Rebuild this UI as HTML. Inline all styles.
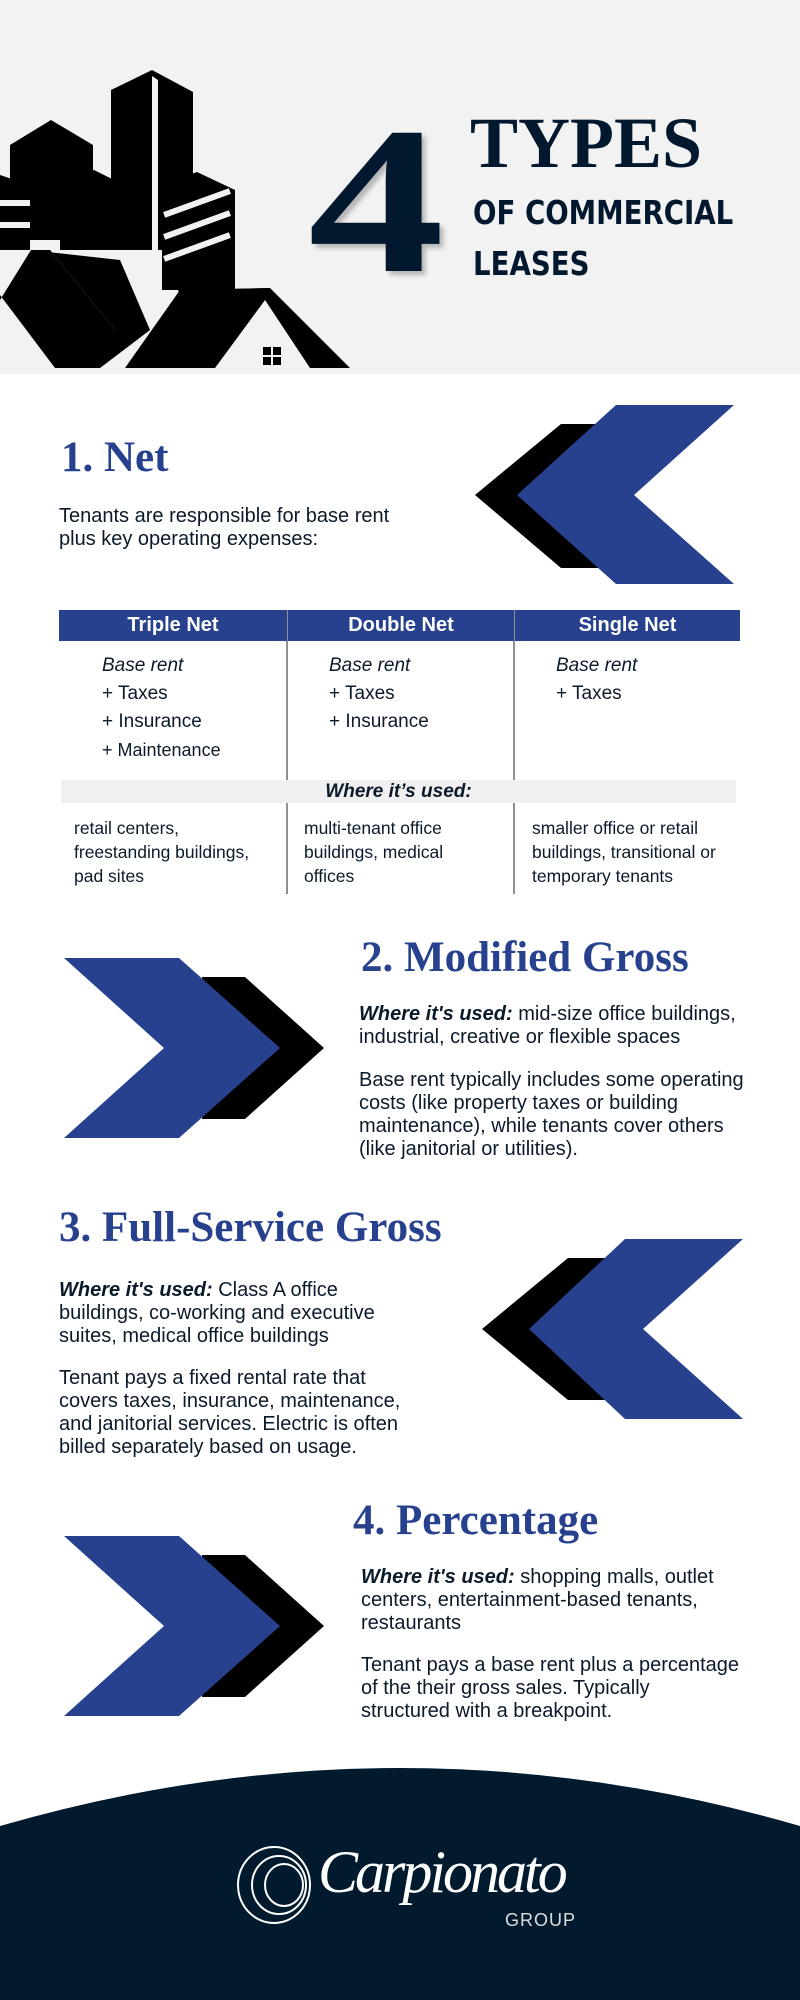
<!DOCTYPE html>
<html><head><meta charset="utf-8"><style>
*{margin:0;padding:0;box-sizing:border-box}
body{width:800px;height:2000px;position:relative;background:#fff;font-family:"Liberation Sans",sans-serif;color:#0b1a2b;overflow:hidden}
.a{position:absolute;white-space:nowrap}
.h{font-family:"Liberation Serif",serif;font-weight:bold;color:#27418f;font-size:43px}
.t{font-size:20px;line-height:23px}
.s{font-size:17.5px;line-height:24px}
.th{position:absolute;top:610px;height:31px;background:#27418f;color:#fff;font-weight:bold;font-size:20px;text-align:center;line-height:31px}
</style></head><body>
<div class="a" style="left:0;top:0;width:800px;height:374px;background:#f2f2f2"></div>
<svg class="a" style="left:0;top:0" width="360" height="374" viewBox="0 0 360 374">
<g fill="#000">
<polygon points="111,90 152,70 193,92 193,250 111,250"/>
<polygon points="10,145 51,120 93,145 93,240 10,240"/>
<polygon points="60,180 94,170 124,185 124,250 60,250"/>
<polygon points="162,185 197,172 235,190 235,290 162,290"/>
<polygon points="0,175 30,185 30,250 0,250"/>
<polygon points="0,300 31,250 50,250 115,330 150,330 100,368 55,368 0,295"/>
<polygon points="30,250 120,260 150,330 115,330 50,250"/>
<polygon points="125,368 180,290 270,288 350,368 310,368 265,300 215,368"/>
<polygon points="178,290 270,288 268,300 182,300"/>
</g>
<g fill="#f2f2f2"><polygon points="152,76 158,80 158,250 152,250"/><rect x="162" y="200" width="70" height="6" transform="rotate(-20 197 203)"/><rect x="162" y="222" width="70" height="6" transform="rotate(-20 197 225)"/><rect x="162" y="244" width="70" height="6" transform="rotate(-20 197 247)"/><rect x="0" y="200" width="30" height="6"/><rect x="0" y="222" width="30" height="6"/></g>
<g fill="#000"><rect x="263" y="347" width="8" height="8"/><rect x="273" y="347" width="8" height="8"/><rect x="263" y="357" width="8" height="8"/><rect x="273" y="357" width="8" height="8"/><rect x="27" y="282" width="5" height="5"/><rect x="34" y="282" width="5" height="5"/><rect x="27" y="289" width="5" height="5"/><rect x="34" y="289" width="5" height="5"/></g>
</svg>
<div class="a" style="left:308px;top:96px;font-family:'Liberation Serif',serif;font-weight:bold;font-size:210px;line-height:210px;color:#02182e;text-shadow:3px 4px 4px rgba(0,0,0,.25);transform:scaleX(1.3);transform-origin:0 0">4</div>
<div class="a" style="left:470px;top:107px;font-family:'Liberation Serif',serif;font-weight:bold;font-size:72px;line-height:72px;color:#02182e">TYPES</div>
<div class="a" style="left:473px;top:193px;font-family:'DejaVu Sans Condensed','DejaVu Sans',sans-serif;font-weight:bold;font-size:33px;line-height:40px;color:#02182e;transform:scaleX(0.93);transform-origin:0 0">OF COMMERCIAL<br><span style="position:relative;top:11px">LEASES</span></div>

<div class="a h" style="left:61px;top:433px">1. Net</div>
<div class="a t" style="left:59px;top:505px">Tenants are responsible for base rent<br>plus key operating expenses:</div>
<svg class="a" style="left:0;top:0" width="800" height="2000">
<polygon fill="#000" points="475,495 561,424 655,424 575,495 655,568 561,568"/>
<polygon fill="#27418f" points="616,405 734,405 634,495 734,584 616,584 517,495"/>
<polygon fill="#000" points="202,977 245,977 324,1048 245,1119 202,1119"/>
<polygon fill="#27418f" points="64,958 179,958 280,1048 179,1138 64,1138 164,1048"/>
<polygon fill="#000" points="482,1329 568,1258 662,1258 582,1329 662,1400 568,1400"/>
<polygon fill="#27418f" points="625,1239 743,1239 643,1329 743,1419 625,1419 529,1329"/>
<polygon fill="#000" points="202,1555 245,1555 324,1626 245,1697 202,1697"/>
<polygon fill="#27418f" points="64,1536 179,1536 280,1626 179,1716 64,1716 164,1626"/>
<line x1="287" y1="610" x2="287" y2="780" stroke="#222" stroke-width="1"/>
<line x1="514" y1="610" x2="514" y2="780" stroke="#222" stroke-width="1"/>
<line x1="287" y1="803" x2="287" y2="894" stroke="#222" stroke-width="1"/>
<line x1="514" y1="803" x2="514" y2="894" stroke="#222" stroke-width="1"/>
<path d="M0,1826 Q400,1710 800,1826 L800,2000 L0,2000 Z" fill="#011a2e"/>
</svg>
<div class="th" style="left:59px;width:228px">Triple Net</div>
<div class="th" style="left:288px;width:226px">Double Net</div>
<div class="th" style="left:515px;width:225px">Single Net</div>
<div class="a" style="left:102px;top:652px;font-size:19px;line-height:28px"><i>Base rent</i><br>+ Taxes<br>+ Insurance<br><span style="font-size:18px">+ Maintenance</span></div>
<div class="a" style="left:329px;top:652px;font-size:19px;line-height:28px"><i>Base rent</i><br>+ Taxes<br>+ Insurance</div>
<div class="a" style="left:556px;top:652px;font-size:19px;line-height:28px"><i>Base rent</i><br>+ Taxes</div>
<div class="a" style="left:61px;top:780px;width:675px;height:23px;background:#f0f0f0;text-align:center;font-weight:bold;font-style:italic;font-size:19px;line-height:23px">Where it’s used:</div>
<div class="a s" style="left:74px;top:816px">retail centers,<br>freestanding buildings,<br>pad sites</div>
<div class="a s" style="left:304px;top:816px">multi-tenant office<br>buildings, medical<br>offices</div>
<div class="a s" style="left:532px;top:816px">smaller office or retail<br>buildings, transitional or<br>temporary tenants</div>

<div class="a h" style="left:361px;top:933px">2. Modified Gross</div>
<div class="a t" style="left:359px;top:1003px"><b><i>Where it's used:</i></b> mid-size office buildings,<br>industrial, creative or flexible spaces</div>
<div class="a t" style="left:359px;top:1069px">Base rent typically includes some operating<br>costs (like property taxes or building<br>maintenance), while tenants cover others<br>(like janitorial or utilities).</div>

<div class="a h" style="left:59px;top:1203px">3. Full-Service Gross</div>
<div class="a t" style="left:59px;top:1279px"><b><i>Where it's used:</i></b> Class A office<br>buildings, co-working and executive<br>suites, medical office buildings</div>
<div class="a t" style="left:59px;top:1367px">Tenant pays a fixed rental rate that<br>covers taxes, insurance, maintenance,<br>and janitorial services. Electric is often<br>billed separately based on usage.</div>

<div class="a h" style="left:353px;top:1496px">4. Percentage</div>
<div class="a t" style="left:361px;top:1566px"><b><i>Where it's used:</i></b> shopping malls, outlet<br>centers, entertainment-based tenants,<br>restaurants</div>
<div class="a t" style="left:361px;top:1654px">Tenant pays a base rent plus a percentage<br>of the their gross sales. Typically<br>structured with a breakpoint.</div>

<svg class="a" style="left:234px;top:1845px" width="80" height="80"><g fill="none" stroke="#fff" stroke-width="2"><ellipse cx="40" cy="40" rx="36" ry="38"/><ellipse cx="45" cy="40" rx="27" ry="29"/><ellipse cx="50" cy="40" rx="19" ry="21"/></g></svg>
<div class="a" style="left:318px;top:1838px;font-family:'Liberation Serif',serif;font-style:italic;font-size:60px;color:#fff;letter-spacing:-3px">Carpionato</div>
<div class="a" style="left:505px;top:1910px;font-family:'Liberation Sans',sans-serif;font-size:18px;color:#ddd;letter-spacing:1px">GROUP</div>
</body></html>
